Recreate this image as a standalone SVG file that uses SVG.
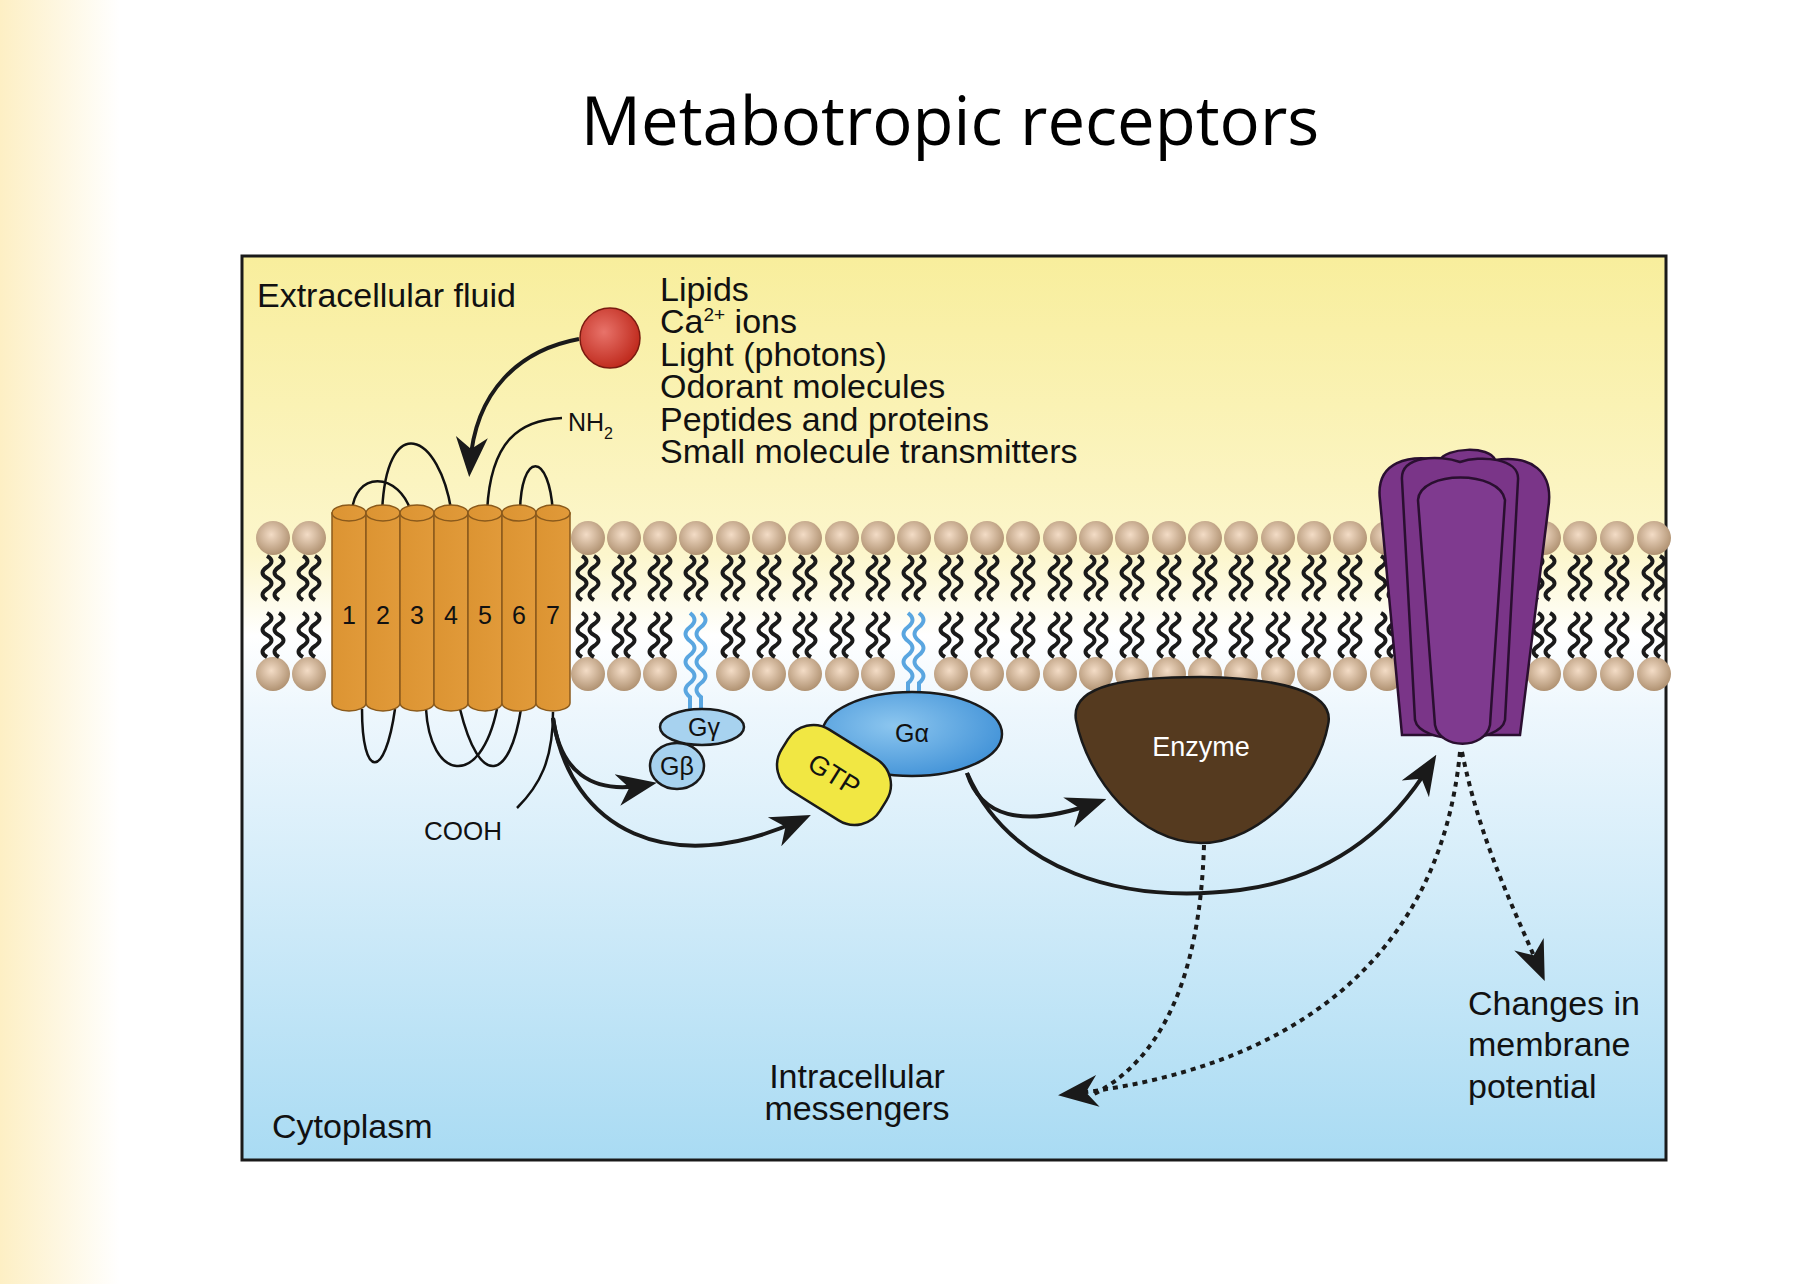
<svg xmlns="http://www.w3.org/2000/svg" xmlns:xlink="http://www.w3.org/1999/xlink" width="1816" height="1284" viewBox="0 0 1816 1284">
<defs>
<linearGradient id="side" x1="0" x2="1" y1="0" y2="0"><stop offset="0" stop-color="#fdefc4"/><stop offset="1" stop-color="#ffffff"/></linearGradient>
<linearGradient id="bg" x1="0" x2="0" y1="0" y2="1">
<stop offset="0" stop-color="#f8ee9c"/><stop offset="0.33" stop-color="#fcf6cc"/><stop offset="0.42" stop-color="#ffffff"/><stop offset="0.5" stop-color="#eef7fd"/><stop offset="1" stop-color="#a9dbf3"/></linearGradient>
<radialGradient id="head" cx="0.45" cy="0.4" r="0.6"><stop offset="0" stop-color="#f3dcc6"/><stop offset="1" stop-color="#b09272"/></radialGradient>
<radialGradient id="ball" cx="0.4" cy="0.4" r="0.6"><stop offset="0" stop-color="#e8736a"/><stop offset="1" stop-color="#c12d20"/></radialGradient>
<linearGradient id="cyl" x1="0" x2="1"><stop offset="0" stop-color="#dc9432"/><stop offset="1" stop-color="#e19a3a"/></linearGradient>
<radialGradient id="ga" cx="0.4" cy="0.4" r="0.7"><stop offset="0" stop-color="#8cc6ef"/><stop offset="1" stop-color="#3d8fd6"/></radialGradient>
<path id="tl" d="M0,0 q9,5 0,11 t0,11 t0,11 t0,11" fill="none" stroke="#1a1a1a" stroke-width="4"/>
<g id="lu"><circle cx="0" cy="538" r="17" fill="url(#head)"/><use href="#tl" x="-6" y="556"/><use href="#tl" x="6" y="556"/></g>
<g id="ll"><circle cx="0" cy="674" r="17" fill="url(#head)"/><use href="#tl" x="-6" y="613"/><use href="#tl" x="6" y="613"/></g>
<marker id="ahb" viewBox="0 0 20 20" refX="14" refY="10" markerWidth="40" markerHeight="40" orient="auto" markerUnits="userSpaceOnUse"><path d="M0,2 L20,10 L0,18 L6,10Z" fill="#1a1a1a"/></marker>
</defs>
<style>
.t{font-family:"Liberation Sans",Arial,sans-serif;fill:#111}
.lst{font-size:34px}
.c{fill:none;stroke:#1a1a1a;stroke-width:4}
.d{fill:none;stroke:#1a1a1a;stroke-width:4;stroke-dasharray:5 5}
.lp{fill:none;stroke:#111;stroke-width:2.5}
</style>
<rect width="1816" height="1284" fill="#fff"/>
<rect width="120" height="1284" fill="url(#side)"/>
<text x="950" y="145" text-anchor="middle" style="font-family:'Open Sans','Noto Sans',sans-serif;font-size:67px" fill="#000">Metabotropic receptors</text>
<rect x="242" y="256" width="1424" height="904" fill="url(#bg)" stroke="#1a1a1a" stroke-width="3"/>

<g id="membrane">
<use href="#lu" x="273"/><use href="#ll" x="273"/><use href="#lu" x="309"/><use href="#ll" x="309"/>
<use href="#lu" x="588"/><use href="#ll" x="588"/><use href="#lu" x="624"/><use href="#ll" x="624"/><use href="#lu" x="660"/><use href="#ll" x="660"/>
<use href="#lu" x="696"/>
<use href="#lu" x="733"/><use href="#ll" x="733"/><use href="#lu" x="769"/><use href="#ll" x="769"/><use href="#lu" x="805"/><use href="#ll" x="805"/><use href="#lu" x="842"/><use href="#ll" x="842"/><use href="#lu" x="878"/><use href="#ll" x="878"/>
<use href="#lu" x="914"/>
<use href="#lu" x="951"/><use href="#ll" x="951"/><use href="#lu" x="987"/><use href="#ll" x="987"/><use href="#lu" x="1023"/><use href="#ll" x="1023"/><use href="#lu" x="1060"/><use href="#ll" x="1060"/><use href="#lu" x="1096"/><use href="#ll" x="1096"/><use href="#lu" x="1132"/><use href="#ll" x="1132"/><use href="#lu" x="1169"/><use href="#ll" x="1169"/><use href="#lu" x="1205"/><use href="#ll" x="1205"/><use href="#lu" x="1241"/><use href="#ll" x="1241"/><use href="#lu" x="1278"/><use href="#ll" x="1278"/><use href="#lu" x="1314"/><use href="#ll" x="1314"/><use href="#lu" x="1350"/><use href="#ll" x="1350"/><use href="#lu" x="1387"/><use href="#ll" x="1387"/>
<use href="#lu" x="1544"/><use href="#ll" x="1544"/><use href="#lu" x="1580"/><use href="#ll" x="1580"/><use href="#lu" x="1617"/><use href="#ll" x="1617"/><use href="#lu" x="1654"/><use href="#ll" x="1654"/>
<g fill="none" stroke="#5aa6e0" stroke-width="4">
<path d="M690,613 q9,7 0,14 t0,14 t0,14 t0,14 t0,14 t0,14 v16"/><path d="M701,613 q9,7 0,14 t0,14 t0,14 t0,14 t0,14 t0,14 v16"/>
<path d="M908,613 q9,7 0,14 t0,14 t0,14 t0,14 t0,14 v20"/><path d="M919,613 q9,7 0,14 t0,14 t0,14 t0,14 t0,14 v20"/>
</g>
</g>

<g id="receptor">
<g class="lp">
<path d="M352,515 C352,470 400,470 412,515"/>
<path d="M382,515 C385,410 440,430 452,515"/>
<path d="M487,513 C490,440 520,420 562,418"/>
<path d="M520,515 C520,450 550,450 553,515"/>
<path d="M362,709 C362,780 385,780 395,709"/>
<path d="M426,709 C430,780 480,790 497,709"/>
<path d="M460,709 C480,790 510,780 521,709"/>
</g>
<g stroke="#8a5a1c" stroke-width="1.5" fill="url(#cyl)">
<path d="M332,513 v190 a17,8 0 0 0 34,0 v-190Z"/><ellipse cx="349" cy="513" rx="17" ry="8"/>
<path d="M366,513 v190 a17,8 0 0 0 34,0 v-190Z"/><ellipse cx="383" cy="513" rx="17" ry="8"/>
<path d="M400,513 v190 a17,8 0 0 0 34,0 v-190Z"/><ellipse cx="417" cy="513" rx="17" ry="8"/>
<path d="M434,513 v190 a17,8 0 0 0 34,0 v-190Z"/><ellipse cx="451" cy="513" rx="17" ry="8"/>
<path d="M468,513 v190 a17,8 0 0 0 34,0 v-190Z"/><ellipse cx="485" cy="513" rx="17" ry="8"/>
<path d="M502,513 v190 a17,8 0 0 0 34,0 v-190Z"/><ellipse cx="519" cy="513" rx="17" ry="8"/>
<path d="M536,513 v190 a17,8 0 0 0 34,0 v-190Z"/><ellipse cx="553" cy="513" rx="17" ry="8"/>
</g>
<g class="t" font-size="25" text-anchor="middle">
<text x="349" y="624">1</text><text x="383" y="624">2</text><text x="417" y="624">3</text><text x="451" y="624">4</text><text x="485" y="624">5</text><text x="519" y="624">6</text><text x="553" y="624">7</text>
</g>
<path class="lp" d="M553,712 C553,760 540,785 517,808"/>
<text class="t" x="568" y="431" font-size="25">NH<tspan font-size="16" dy="8">2</tspan></text>
<text class="t" x="463" y="840" font-size="26" text-anchor="middle">COOH</text>
</g>

<g id="ligand"><circle cx="610" cy="338" r="30" fill="url(#ball)" stroke="#7a1a10" stroke-width="1.5"/></g>
<g id="ligand-list" class="t lst">
<text x="660" y="301">Lipids</text>
<text x="660" y="333">Ca<tspan font-size="19" dy="-12">2+</tspan><tspan dy="12"> ions</tspan></text>
<text x="660" y="366">Light (photons)</text>
<text x="660" y="398">Odorant molecules</text>
<text x="660" y="431">Peptides and proteins</text>
<text x="660" y="463">Small molecule transmitters</text>
</g>

<g id="gbg">
<ellipse cx="702" cy="727" rx="42" ry="18" fill="#a7d2ef" stroke="#1a1a1a" stroke-width="2.5"/>
<ellipse cx="677" cy="766" rx="27" ry="23" fill="#a7d2ef" stroke="#1a1a1a" stroke-width="2.5"/>
<text class="t" x="704" y="736" font-size="25" text-anchor="middle">Gγ</text>
<text class="t" x="677" y="775" font-size="25" text-anchor="middle">Gβ</text>
</g>
<g id="galpha">
<ellipse cx="912" cy="734" rx="90" ry="42" fill="url(#ga)" stroke="#1a1a1a" stroke-width="2.5"/>
<text class="t" x="912" y="742" font-size="25" text-anchor="middle">Gα</text>
</g>
<g id="gtp" transform="translate(834,775) rotate(32)">
<rect x="-58" y="-36" width="116" height="72" rx="30" fill="#f1e743" stroke="#1a1a1a" stroke-width="2.5"/>
<text class="t" x="0" y="9" font-size="27" text-anchor="middle">GTP</text>
</g>
<g id="enzyme">
<path d="M1076,720 C1070,684 1130,677 1201,677 C1280,678 1336,692 1328,725 C1318,780 1260,843 1201,843 C1140,843 1088,780 1076,720Z" fill="#553a1f" stroke="#1a1a1a" stroke-width="2.5"/>
<text x="1201" y="756" font-size="27" text-anchor="middle" style="font-family:'Liberation Sans',Arial,sans-serif" fill="#fff">Enzyme</text>
</g>
<g id="channel" stroke="#2a0f30" stroke-width="2.5" fill="#7a3588">
<path d="M1380,500 C1375,460 1410,455 1440,460 C1445,448 1490,445 1495,460 C1530,455 1555,470 1548,510 L1520,735 L1402,735 Z"/>
<path d="M1402,480 C1400,455 1440,455 1460,462 C1480,455 1520,458 1518,480 L1505,720 C1500,745 1420,745 1415,720 Z"/>
<path d="M1418,500 C1420,470 1500,470 1505,500 L1490,725 C1485,750 1440,750 1435,725 Z" fill="#7f3a8f"/>
</g>

<g id="connectors">
<path class="c" d="M579,339 C520,350 475,390 470,465" marker-end="url(#ahb)"/>
<path class="c" d="M553,718 C560,770 590,795 645,785" marker-end="url(#ahb)"/>
<path class="c" d="M553,718 C570,830 670,880 800,820" marker-end="url(#ahb)"/>
<path class="c" d="M967,773 C980,815 1020,830 1095,803" marker-end="url(#ahb)"/>
<path class="c" d="M967,773 C1010,870 1120,905 1240,890 C1330,878 1390,830 1430,765" marker-end="url(#ahb)"/>
<path class="d" d="M1204,845 C1200,980 1160,1060 1094,1094"/>
<path class="d" d="M1460,752 C1440,960 1290,1070 1070,1094" marker-end="url(#ahb)"/>
<path class="d" d="M1462,752 C1480,840 1510,900 1540,970" marker-end="url(#ahb)"/>
</g>

<g id="labels" class="t lst">
<text x="257" y="307">Extracellular fluid</text>
<text x="272" y="1138">Cytoplasm</text>
<text x="857" y="1088" text-anchor="middle">Intracellular</text>
<text x="857" y="1120" text-anchor="middle">messengers</text>
<text x="1468" y="1015">Changes in</text>
<text x="1468" y="1056">membrane</text>
<text x="1468" y="1098">potential</text>
</g>
</svg>
